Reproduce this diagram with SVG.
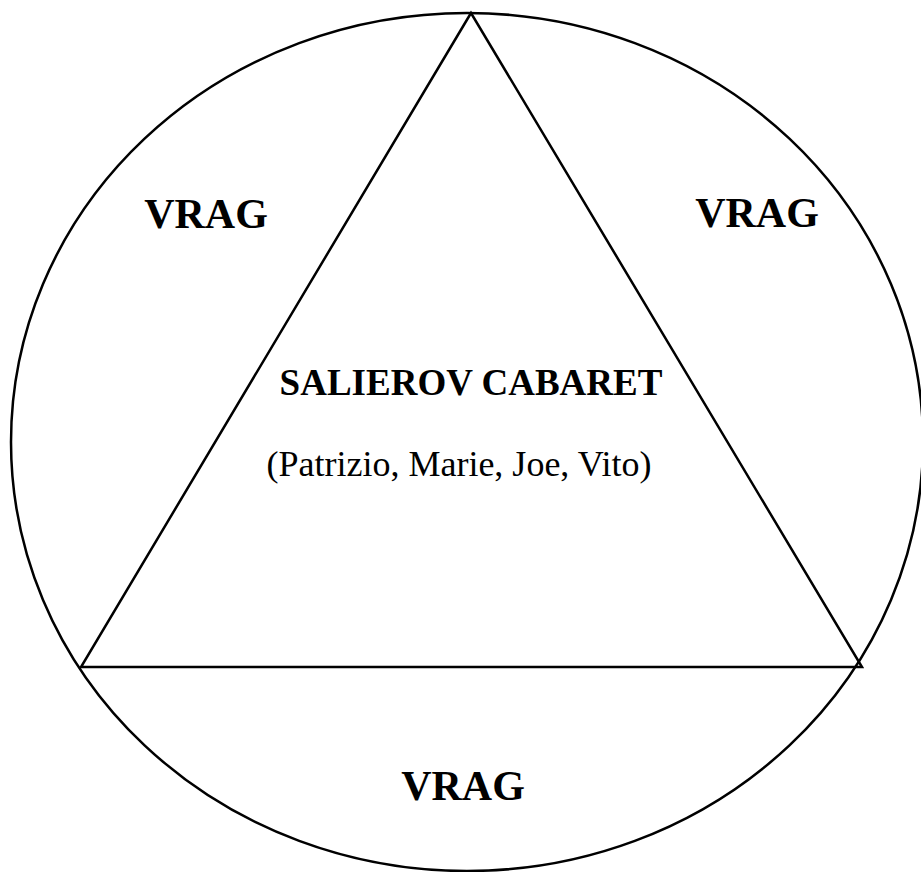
<svg xmlns="http://www.w3.org/2000/svg" width="921" height="872" viewBox="0 0 921 872">
<style>
.shape{fill:none;stroke:#000;stroke-width:2.5}
.lbl{font-family:"Liberation Serif","Times New Roman",serif;fill:#000;text-anchor:middle}
.b{font-weight:bold;font-size:42px}
.t{font-weight:bold;font-size:37px}
.n{font-size:36px}
</style>
<rect width="921" height="872" fill="#fff"/>
<g id="circle"><ellipse class="shape" cx="467" cy="442" rx="456" ry="429"/></g>
<g id="triangle"><polygon class="shape" points="471,13 81,667 862,667" stroke-linejoin="miter"/></g>
<g id="vrag-left"><text class="lbl b" x="206" y="228">VRAG</text></g>
<g id="vrag-right"><text class="lbl b" x="757" y="227">VRAG</text></g>
<g id="vrag-bottom"><text class="lbl b" x="463" y="800">VRAG</text></g>
<g id="center"><text class="lbl t" x="471" y="395">SALIEROV CABARET</text><text class="lbl n" x="459" y="476">(Patrizio, Marie, Joe, Vito)</text></g>
</svg>
